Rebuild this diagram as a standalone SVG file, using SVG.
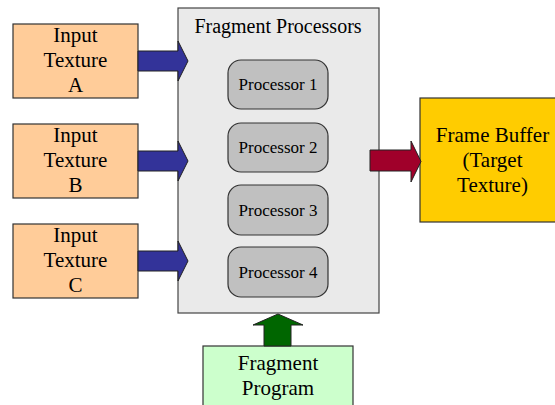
<svg xmlns="http://www.w3.org/2000/svg" width="555" height="405" viewBox="0 0 555 405">
<style>
text{fill:#000;text-anchor:middle}
.big{font-size:21px}
.small{font-size:17px}
.inp{fill:#ffcc99;stroke:#333;stroke-width:1.2}
.proc{fill:#c0c0c0;stroke:#333;stroke-width:1.2}
.ba{fill:#333399;stroke:#222;stroke-width:1}
</style>
<rect width="555" height="405" fill="#fff"/>
<g font-family="Liberation Serif, Times New Roman, DejaVu Serif, serif">
<g id="fragment-processors">
<rect x="178" y="8" width="201" height="305" fill="#eaeaea" stroke="#444" stroke-width="1.2"/>
<text class="big" x="278" y="33" style="font-size:20px">Fragment Processors</text>
</g>
<g id="processor-1"><rect class="proc" x="228" y="60" width="100" height="49" rx="13"/><text class="small" x="278" y="90">Processor 1</text></g>
<g id="processor-2"><rect class="proc" x="228" y="123" width="100" height="49" rx="13"/><text class="small" x="278" y="153">Processor 2</text></g>
<g id="processor-3"><rect class="proc" x="228" y="185" width="100" height="50" rx="13"/><text class="small" x="278" y="216">Processor 3</text></g>
<g id="processor-4"><rect class="proc" x="228" y="247" width="100" height="50" rx="13"/><text class="small" x="278" y="278">Processor 4</text></g>
<g id="input-a"><rect class="inp" x="13" y="24" width="125" height="74"/><text class="big" x="75.5" y="42">Input</text><text class="big" x="75.5" y="67">Texture</text><text class="big" x="75.5" y="92">A</text></g>
<g id="input-b"><rect class="inp" x="13" y="124" width="125" height="74"/><text class="big" x="75.5" y="142">Input</text><text class="big" x="75.5" y="167">Texture</text><text class="big" x="75.5" y="192">B</text></g>
<g id="input-c"><rect class="inp" x="13" y="224" width="125" height="74"/><text class="big" x="75.5" y="242">Input</text><text class="big" x="75.5" y="267">Texture</text><text class="big" x="75.5" y="292">C</text></g>
<g id="frame-buffer"><rect x="420" y="98" width="140" height="124" fill="#ffcc00" stroke="#333" stroke-width="1.2"/><text class="big" x="492.5" y="142">Frame Buffer</text><text class="big" x="492.5" y="167">(Target</text><text class="big" x="492.5" y="192">Texture)</text></g>
<g id="fragment-program"><rect x="203" y="346" width="150" height="70" fill="#ccffcc" stroke="#333" stroke-width="1.2"/><text class="big" x="278" y="370">Fragment</text><text class="big" x="278" y="395">Program</text></g>
</g>
<g id="connectors">
<polygon class="ba" points="138,51 178,51 178,41 188,61 178,81 178,71 138,71"/>
<polygon class="ba" points="138,151 178,151 178,141 188,161 178,181 178,171 138,171"/>
<polygon class="ba" points="138,251 178,251 178,241 188,261 178,281 178,271 138,271"/>
<polygon points="370,150 411,150 411,141 421,161.5 411,182 411,171 370,171" fill="#a0002a" stroke="#222" stroke-width="1"/>
<polygon points="264,346 264,325 253,325 278,314 303,325 291,325 291,346" fill="#006600" stroke="#222" stroke-width="1"/>
</g>
</svg>
